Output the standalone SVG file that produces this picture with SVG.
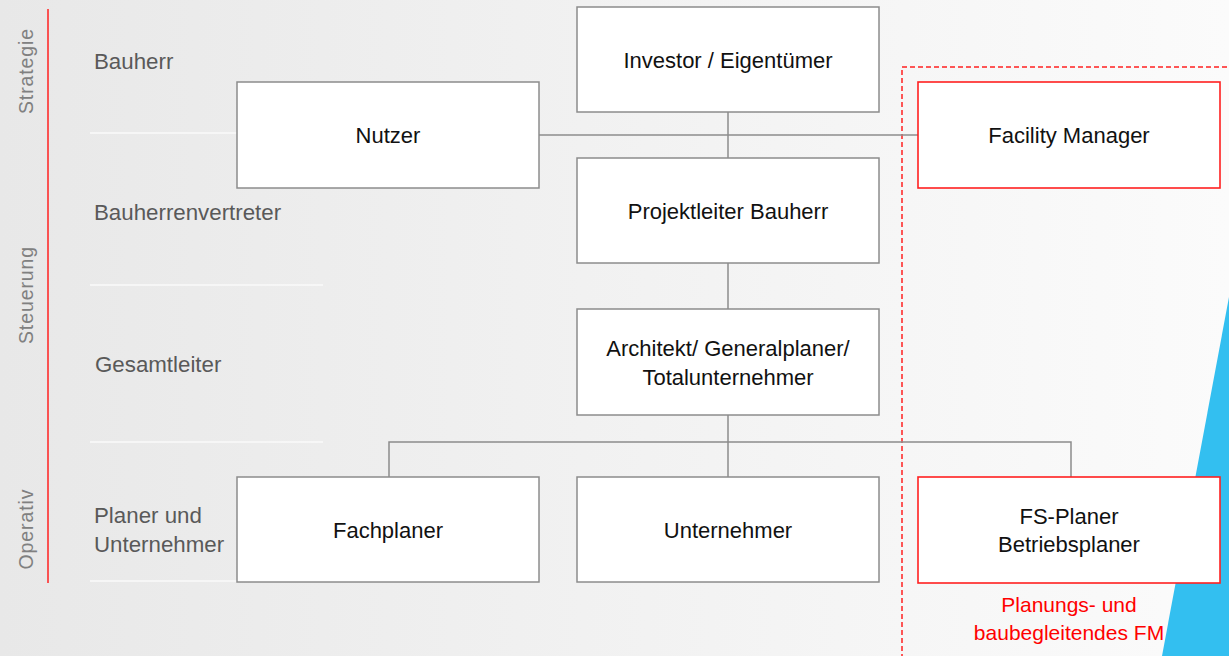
<svg xmlns="http://www.w3.org/2000/svg" width="1229" height="656" viewBox="0 0 1229 656">
<defs>
<linearGradient id="bg" x1="0" y1="0" x2="1" y2="0">
<stop offset="0" stop-color="#e8e8e8"/>
<stop offset="1" stop-color="#fbfbfb"/>
</linearGradient>
</defs>
<style>
.box{fill:#ffffff;stroke:#8c8c8c;stroke-width:1.5}
.rbox{fill:#ffffff;stroke:#ff2020;stroke-width:1.6}
.nt{font-family:"Liberation Sans",Arial,sans-serif;font-size:22px;fill:#111111;text-anchor:middle}
.lt{font-family:"Liberation Sans",Arial,sans-serif;font-size:22.3px;fill:#595959}
.vt{font-family:"Liberation Sans",Arial,sans-serif;font-size:19.5px;fill:#808080;text-anchor:middle;letter-spacing:0.9px}
.rt{font-family:"Liberation Sans",Arial,sans-serif;font-size:21px;fill:#ff0000;text-anchor:middle}
.con{stroke:#8c8c8c;stroke-width:1.5;fill:none}
.sep{stroke:#fafafa;stroke-width:1.5}
</style>
<rect x="0" y="0" width="1229" height="656" fill="url(#bg)"/>
<polygon points="1229,297 1162,656 1229,656" fill="#33bff0"/>

<g id="lanes">
<line x1="48" y1="9" x2="48" y2="583" stroke="#ff2020" stroke-width="1.5"/>
<line class="sep" x1="90" y1="133" x2="237" y2="133"/>
<line class="sep" x1="90" y1="285" x2="323" y2="285"/>
<line class="sep" x1="90" y1="442" x2="323" y2="442"/>
<line class="sep" x1="90" y1="581" x2="237" y2="581"/>
<text class="vt" transform="translate(33,71) rotate(-90)">Strategie</text>
<text class="vt" transform="translate(33,295) rotate(-90)">Steuerung</text>
<text class="vt" transform="translate(33,529) rotate(-90)">Operativ</text>
<text class="lt" x="94" y="69">Bauherr</text>
<text class="lt" x="94" y="220">Bauherrenvertreter</text>
<text class="lt" x="95" y="372">Gesamtleiter</text>
<text class="lt" x="94" y="523">Planer und</text>
<text class="lt" x="94" y="552">Unternehmer</text>
</g>

<rect x="902" y="67" width="340" height="600" fill="none" stroke="#ff2020" stroke-width="1.5" stroke-dasharray="5 3"/>

<g id="connectors">
<line class="con" x1="539" y1="135" x2="918" y2="135"/>
<line class="con" x1="728" y1="112" x2="728" y2="158"/>
<line class="con" x1="728" y1="263" x2="728" y2="309"/>
<line class="con" x1="728" y1="415" x2="728" y2="477"/>
<polyline class="con" points="389,477 389,442 1071,442 1071,477"/>
</g>

<g id="investor">
<rect class="box" x="577" y="7" width="302" height="105"/>
<text class="nt" x="728" y="67.5">Investor / Eigentümer</text>
</g>
<g id="nutzer">
<rect class="box" x="237" y="82" width="302" height="106"/>
<text class="nt" x="388" y="143">Nutzer</text>
</g>
<g id="facility-manager">
<rect class="rbox" x="918" y="82" width="302" height="106"/>
<text class="nt" x="1069" y="143">Facility Manager</text>
</g>
<g id="projektleiter">
<rect class="box" x="577" y="158" width="302" height="105"/>
<text class="nt" x="728" y="218.5">Projektleiter Bauherr</text>
</g>
<g id="architekt">
<rect class="box" x="577" y="309" width="302" height="106"/>
<text class="nt" x="728" y="356">Architekt/ Generalplaner/</text>
<text class="nt" x="728" y="385">Totalunternehmer</text>
</g>
<g id="fachplaner">
<rect class="box" x="237" y="477" width="302" height="105"/>
<text class="nt" x="388" y="537.5">Fachplaner</text>
</g>
<g id="unternehmer">
<rect class="box" x="577" y="477" width="302" height="105"/>
<text class="nt" x="728" y="537.5">Unternehmer</text>
</g>
<g id="fs-planer">
<rect class="rbox" x="918" y="477" width="302" height="106"/>
<text class="nt" x="1069" y="524">FS-Planer</text>
<text class="nt" x="1069" y="552">Betriebsplaner</text>
</g>
<g id="fm-label">
<text class="rt" x="1069" y="612">Planungs- und</text>
<text class="rt" x="1069" y="640">baubegleitendes FM</text>
</g>
</svg>
